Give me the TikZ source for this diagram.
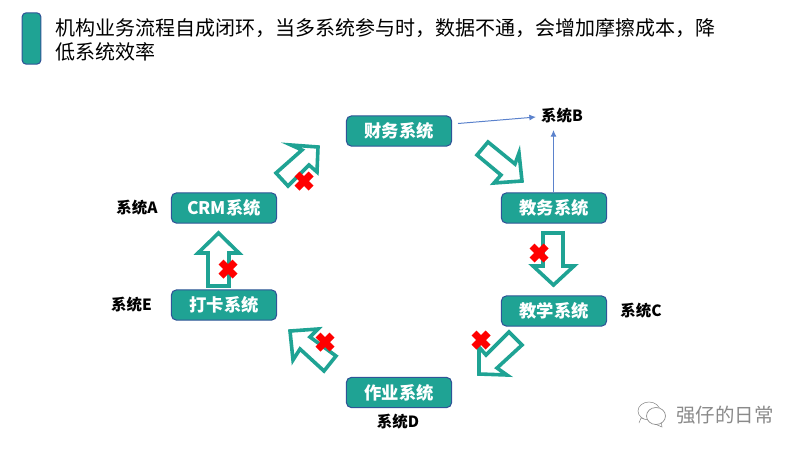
\documentclass[tikz,border=0pt]{standalone}
\usepackage{fontspec}
\setmainfont{Noto Sans CJK SC}
\usetikzlibrary{arrows.meta}
\definecolor{teal1}{HTML}{1FA394}
\definecolor{edge1}{HTML}{2F5597}
\definecolor{thin1}{HTML}{5B82CC}
\definecolor{wm}{HTML}{8A8A8A}
\tikzset{
  sysbox/.style={draw=edge1,line width=0.8pt,fill=teal1,rounded corners=4pt,minimum width=79pt,minimum height=22.8pt,inner sep=0pt,text=white,font=\bfseries\fontsize{13}{14}\selectfont},
  syslabel/.style={inner sep=0pt,font=\bfseries\fontsize{11.6}{13}\selectfont,text=black},
  flow/.style={draw=teal1,line width=2.7pt,fill=white,miter limit=10},
  cross/.pic={\draw[red,line width=5.3pt] (-7,-7)--(7,7) (-7,7)--(7,-7);},
  thinarrow/.style={draw=thin1,line width=0.75pt,-{Latex[length=5pt,width=4.5pt]}},
}
\begin{document}
\begin{tikzpicture}[x=0.75pt,y=-0.75pt]
\useasboundingbox (0,0) rectangle (800,450);
\node[draw=edge1,line width=0.8pt,fill=teal1,rounded corners=3pt,minimum width=14pt,minimum height=38.5pt,inner sep=0pt] (bar) at (31.5,38.5) {};
\node[anchor=west,inner sep=0pt,font=\fontsize{15}{18}\selectfont] (t1) at (55,28) {机构业务流程自成闭环，当多系统参与时，数据不通，会增加摩擦成本，降};
\node[anchor=west,inner sep=0pt,font=\fontsize{15}{18}\selectfont] (t2) at (55,52) {低系统效率};

\node[sysbox] (cw) at (399,131) {财务系统};
\node[sysbox] (jw) at (554,208) {教务系统};
\node[sysbox] (jx) at (554,311) {教学系统};
\node[sysbox] (zy) at (399,392.5) {作业系统};
\node[sysbox] (dk) at (224,305) {打卡系统};
\node[sysbox] (crm) at (224,208) {CRM系统};

\node[syslabel] (la) at (137,208) {系统A};
\node[syslabel] (lb) at (562,116) {系统B};
\node[syslabel] (lc) at (641,311) {系统C};
\node[syslabel] (ld) at (398,422) {系统D};
\node[syslabel] (le) at (131.5,305) {系统E};

\coordinate (cwout) at (458,123.5);
\coordinate (lbw) at (536,117);
\coordinate (lbs) at (553.5,130);
\draw[thinarrow] (cwout) -- (lbw);
\draw[thinarrow] (jw.north -| lbs) -- (lbs);

\draw[flow] (276,173)--(302,150)--(291,145)--(318,147)--(317,172)--(309,165)--(288,186)--cycle;
\draw[flow] (477,155)--(488,142)--(515,164)--(519,153)--(522,181)--(494,183)--(501,175)--cycle;
\draw[flow] (543,233)--(563,233)--(563,266)--(574,266)--(553.5,285)--(533,266)--(543,266)--cycle;
\draw[flow] (509,332)--(522,345)--(497,368)--(507,375)--(479,374)--(479,347)--(486,355)--cycle;
\draw[flow] (336,356)--(324,371)--(300,349)--(293,360)--(290,331)--(318,329)--(310,337)--cycle;
\draw[flow] (208,286)--(229,286)--(229,253)--(239,253)--(218.5,233)--(198,253)--(208,253)--cycle;

\pic at (304,181) {cross};
\pic at (539,253) {cross};
\pic at (228,269) {cross};
\pic at (325,342) {cross};
\pic at (481,340) {cross};

\draw[wm,line width=0.4pt,fill=white] (649,411) ellipse (11 and 9);
\draw[wm,line width=0.4pt,fill=white] (639,423)--(641,418)--(644,419) (655,424)--(662,427)--(661,421);
\draw[wm,line width=0.5pt,fill=white] (656,416) ellipse (9.5 and 8.5);
\node[anchor=west,inner sep=0pt,text=wm,font=\fontsize{14.6}{16}\selectfont] (wt) at (676,415.5) {强仔的日常};
\end{tikzpicture}
\end{document}
